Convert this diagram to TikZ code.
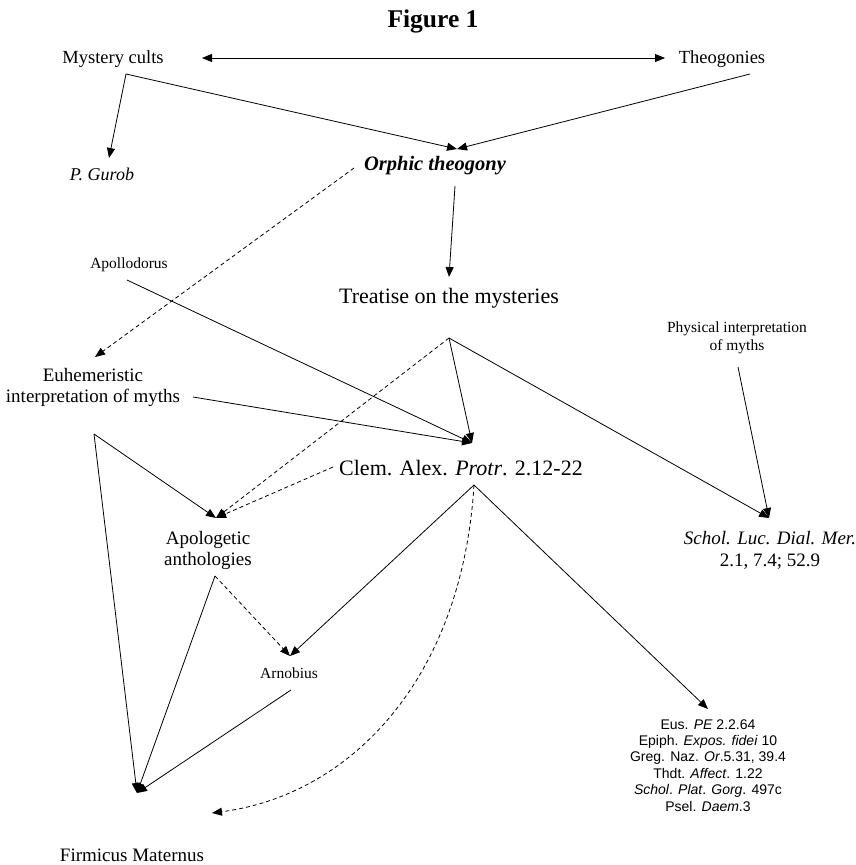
\documentclass[tikz,border=0pt]{standalone}
\usepackage{fontspec}
\setmainfont{Liberation Serif}
\newfontfamily\arialfont{Liberation Sans}
\usetikzlibrary{arrows.meta}
\newcommand{\setsz}[2][1.15]{\fontsize{#2}{#1\dimexpr#2pt\relax}\selectfont}

\begin{document}
\begin{tikzpicture}[x=1pt,y=-1pt,
  >={Triangle[length=10pt,width=8pt]},
  lbl/.style={inner sep=0pt, anchor=base, align=center},
  arr/.style={->, line width=0.8pt},
  darr/.style={arr, dash pattern=on 4pt off 3pt}]
\useasboundingbox (0,0) rectangle (856,865);

% labels (multi-line ones sit on their last baseline)
\node[lbl, font=\bfseries\setsz{25.5}] (fig) at (433,27) {Figure 1};
\node[lbl, font=\setsz{18.5}] (mc) at (113,63) {Mystery cults};
\node[lbl, font=\setsz{18.5}] (th) at (722,63) {Theogonies};
\node[lbl, font=\itshape\setsz{18}] (pg) at (102,180) {P. Gurob};
\node[lbl, font=\bfseries\itshape\setsz{20.5}] (ot) at (435,170) {Orphic theogony};
\node[lbl, font=\setsz{15.5}] (ap) at (129,268) {Apollodorus};
\node[lbl, font=\fontsize{19}{21}\selectfont] (eu) at (93,402) {Euhemeristic\\interpretation of myths};
\node[lbl, font=\setsz{22}] (tr) at (449,303) {Treatise on the mysteries};
\node[lbl, font=\fontsize{15.5}{17.5}\selectfont] (ph) at (737,350) {Physical interpretation\\of myths};
\node[lbl, font=\setsz{22}] (cl) at (461,475) {Clem. Alex. \textit{Protr}. 2.12-22};
\node[lbl, font=\fontsize{19}{22}\selectfont] (sc) at (770,566) {\textit{Schol. Luc. Dial. Mer.}\\2.1, 7.4; 52.9};
\node[lbl, font=\fontsize{19}{21}\selectfont] (ag) at (208,565) {Apologetic\\anthologies};
\node[lbl, font=\setsz{15.5}] (ar) at (289,678) {Arnobius};
\node[lbl, font=\setsz{19}] (fm) at (132,861) {Firmicus Maternus};
\node[lbl, font=\arialfont\fontsize{14}{16.4}\selectfont] (eus) at (708,811)
  {Eus. \textit{PE} 2.2.64\\Epiph. \textit{Expos. fidei} 10\\Greg. Naz. \textit{Or}.5.31, 39.4\\Thdt. \textit{Affect}. 1.22\\\textit{Schol}. \textit{Plat}. \textit{Gorg}. 497c\\Psel. \textit{Daem}.3};

% connection points
\coordinate (mc-e) at (202,58);
\coordinate (th-w) at (665,58);
\coordinate (mc-s) at (126,74);
\coordinate (th-s) at (750,74);
\coordinate (pg-n) at (109,158);
\coordinate (ot-n) at (457,149);
\coordinate (ot-s) at (455,186);
\coordinate (ot-w) at (354,168);
\coordinate (tr-n) at (449,277);
\coordinate (tr-s) at (449,338);
\coordinate (ap-s) at (127,280);
\coordinate (eu-n) at (95,357);
\coordinate (eu-e) at (193,397);
\coordinate (eu-s) at (94,434);
\coordinate (ph-s) at (738,367);
\coordinate (cl-n) at (472,443);
\coordinate (cl-w) at (333,467);
\coordinate (cl-s) at (474,485);
\coordinate (sc-n) at (769,518);
\coordinate (ag-n) at (216,518);
\coordinate (ag-s) at (215,576);
\coordinate (ar-n) at (290,656);
\coordinate (ar-s) at (291,690);
\coordinate (eus-n) at (708,709);
\coordinate (fm-n) at (137,793);
\coordinate (fm-e) at (212,813);

% connectors
\draw[arr, <->] (mc-e) -- (th-w);
\draw[arr] (mc-s) -- (pg-n);
\draw[arr] (mc-s) -- (ot-n);
\draw[arr] (th-s) -- (ot-n);
\draw[arr] (ot-s) -- (tr-n);
\draw[darr] (ot-w) -- (eu-n);
\draw[arr] (ap-s) -- (cl-n);
\draw[arr] (eu-e) -- (cl-n);
\draw[arr] (tr-s) -- (cl-n);
\draw[arr] (tr-s) -- (sc-n);
\draw[arr] (ph-s) -- (sc-n);
\draw[darr] (tr-s) -- (ag-n);
\draw[darr] (cl-w) -- (ag-n);
\draw[arr] (eu-s) -- (ag-n);
\draw[arr] (eu-s) -- (fm-n);
\draw[arr] (ag-s) -- (fm-n);
\draw[darr] (ag-s) -- (ar-n);
\draw[arr] (cl-s) -- (ar-n);
\draw[arr] (cl-s) -- (eus-n);
\draw[arr] (ar-s) -- (fm-n);
\draw[darr] (cl-s) .. controls (462,680) and (350,795) .. (fm-e);

\end{tikzpicture}
\end{document}
